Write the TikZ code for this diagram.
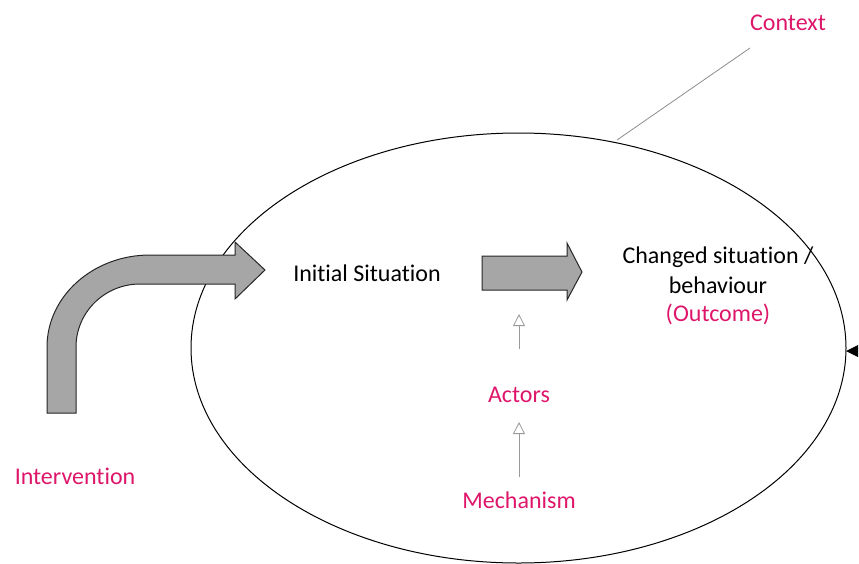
\documentclass[tikz,border=0pt]{standalone}
\usepackage{fontspec}
\setmainfont{Carlito}[Ligatures={NoCommon}]
\usetikzlibrary{arrows.meta,shapes.geometric}
\definecolor{pinktxt}{RGB}{222,22,106}
\definecolor{arrowgray}{RGB}{166,166,166}
\begin{document}
\begin{tikzpicture}[x=1pt,y=-1pt,
  lbl/.style={font=\fontsize{24}{30}\selectfont, inner sep=0pt, align=center},
  pinklbl/.style={lbl, text=pinktxt},
  blockarrow/.style={draw=black!85, fill=arrowgray, line width=1pt, line join=miter},
  thinarrow/.style={draw=black!40, line width=0.8pt, -{Triangle[open, length=12pt, width=12pt]}}]
\useasboundingbox (0,0) rectangle (859,563);
% context ellipse
\node[draw, ellipse, line width=1pt, minimum width=655pt, minimum height=430pt, inner sep=0pt] (ctx) at (518.5,348) {};
% context pointer line
\coordinate (ctxend) at (750,48);
\coordinate (ctxtouch) at (617,140);
\draw[black!45, line width=0.8pt] (ctxtouch) -- (ctxend);
\node[pinklbl] (context) at (788,23) {Context};
% bent intervention arrow
\draw[blockarrow]
  (47,413) -- (47,347)
  arc[start angle=180, end angle=270, x radius=103, y radius=92]
  -- (235,255) -- (235,242) -- (265,270) -- (235,299) -- (235,284)
  -- (140,284)
  arc[start angle=270, end angle=180, x radius=64, y radius=63]
  -- (76,413) -- cycle;
% straight arrow
\draw[blockarrow]
  (482,256) -- (567,256) -- (567,243) -- (582,272) -- (567,300) -- (567,290) -- (482,290) -- cycle;
% labels
\node[lbl] (init) at (367,273) {Initial Situation};
\node[lbl] (changed) at (718,270) {Changed situation /\\behaviour};
\node[pinklbl] (outcome) at (718,314) {(Outcome)};
\node[pinklbl] (actors) at (519,395) {Actors};
\node[pinklbl] (mech) at (519,500) {Mechanism};
\node[pinklbl] (interv) at (75,476) {Intervention};
% small open arrows
\coordinate (a1s) at (519,349);
\coordinate (a1e) at (519,314);
\draw[thinarrow] (a1s) -- (a1e);
\coordinate (a2s) at (519,477);
\coordinate (a2e) at (519,422);
\draw[thinarrow] (a2s) -- (a2e);
% right marker
\fill[black] (846,351) -- (858,345) -- (858,357) -- cycle;
\end{tikzpicture}
\end{document}
